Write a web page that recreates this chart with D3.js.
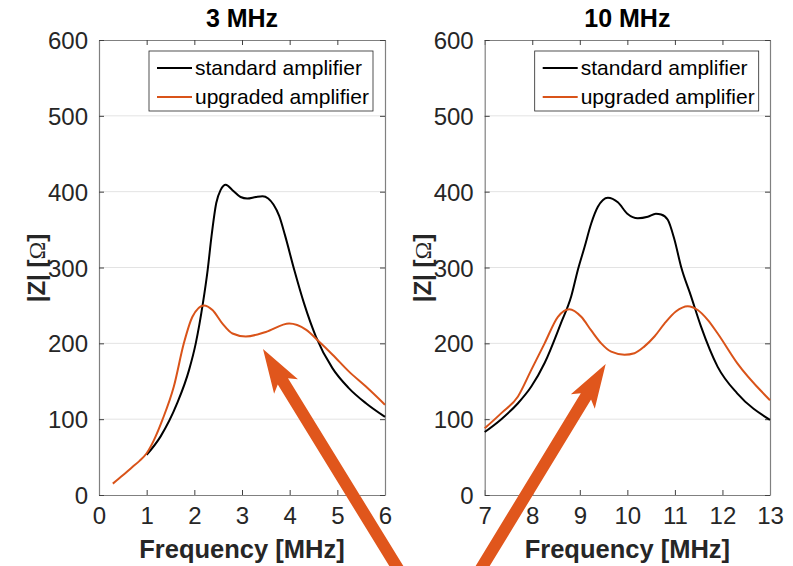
<!DOCTYPE html>
<html>
<head>
<meta charset="utf-8">
<script src="https://unpkg.com/d3@7/dist/d3.min.js"></script>
<style>
  body { margin: 0; background: #fff; }
  svg { display: block; }
</style>
</head>
<body>
<div></div>
<script>
// impedance |Z|, frequency in MHz
let freq3Std = [1.0, 1.29, 1.64, 1.89, 2.03, 2.18, 2.28, 2.36, 2.46, 2.55, 2.66, 2.8, 2.97, 3.11, 3.29, 3.43, 3.55, 3.66, 3.78, 3.9, 4.1, 4.3, 4.55, 4.9, 5.24, 5.6, 6.0]
let z3Std    = [53, 77, 121, 165, 200, 253, 297, 341, 385, 402, 409, 402, 393, 391, 393, 394, 391, 383, 368, 343, 296, 253, 209, 167, 141, 121, 103]
let freq3Up  = [0.29, 0.5, 0.7, 0.85, 1.0, 1.15, 1.33, 1.57, 1.78, 1.96, 2.2, 2.38, 2.59, 2.8, 3.08, 3.5, 3.99, 4.34, 4.62, 4.9, 5.24, 5.6, 6.0]
let z3Up     = [15, 26, 37, 45, 55, 72, 99, 143, 200, 235, 250, 244, 226, 213, 209, 215, 226, 218, 202, 185, 163, 143, 119]

let freq10Std = [7.0, 7.35, 7.7, 7.98, 8.26, 8.6, 8.82, 8.96, 9.1, 9.24, 9.38, 9.59, 9.8, 10.0, 10.22, 10.43, 10.6, 10.71, 10.85, 10.99, 11.13, 11.34, 11.55, 11.9, 12.31, 13.0]
let z10Std    = [83, 100, 121, 143, 174, 226, 262, 297, 327, 358, 380, 392, 386, 371, 365, 367, 371, 370, 363, 337, 301, 262, 222, 169, 134, 99]
let freq10Up  = [7.0, 7.35, 7.7, 7.98, 8.26, 8.54, 8.78, 9.03, 9.24, 9.45, 9.66, 9.94, 10.15, 10.36, 10.57, 10.78, 11.02, 11.27, 11.48, 11.69, 11.9, 12.31, 13.0]
let z10Up     = [88, 108, 130, 165, 200, 235, 245, 235, 217, 200, 189, 185, 187, 196, 209, 226, 242, 249, 244, 231, 213, 174, 125]

let yTicks = [0, 100, 200, 300, 400, 500, 600]
let seriesNames = ['standard amplifier', 'upgraded amplifier']
let colors = ['#000000', '#D95319']

let panels = [
  {title: '3 MHz', domain: [0, 6], ticks: [0, 1, 2, 3, 4, 5, 6], left: 99, right: 385,
   series: [[freq3Std, z3Std], [freq3Up, z3Up]]},
  {title: '10 MHz', domain: [7, 13], ticks: [7, 8, 9, 10, 11, 12, 13], left: 484.7, right: 770,
   series: [[freq10Std, z10Std], [freq10Up, z10Up]]}
]

// arrows drawn over the figure (page coordinates, tip then tail)
let arrows = [
  {tip: [263, 349], tail: [400, 572]},
  {tip: [605.7, 364], tail: [479, 572]}
]

let width = 793, height = 566
let plotTop = 40, plotBottom = 495
let font = 'Liberation Sans, Arial, Helvetica, sans-serif'

var svg = d3.select('div')
  .append('svg')
  .attr('width', width)
  .attr('height', height)

let y = d3.scaleLinear().domain([0, 600]).range([plotBottom, plotTop])

panels.forEach(function(p) {
  let x = d3.scaleLinear().domain(p.domain).range([p.left, p.right])
  let g = svg.append('g')

  // grid
  g.selectAll('.grid')
    .data(yTicks.slice(1, -1))
    .enter()
    .append('line')
    .attr('x1', p.left).attr('x2', p.right)
    .attr('y1', d => y(d)).attr('y2', d => y(d))
    .attr('stroke', '#e3e3e3')
    .attr('stroke-width', 1)

  // axes with inward ticks on all four sides
  let axisStyle = function(sel) {
    sel.select('.domain').attr('stroke', '#808080').attr('stroke-width', 1.2)
    sel.selectAll('.tick line').attr('stroke', '#404040')
  }
  g.append('g').attr('transform', `translate(0,${plotBottom})`)
    .call(d3.axisBottom(x).tickValues(p.ticks).tickFormat(d3.format('d')).tickSizeInner(-5).tickSizeOuter(0).tickPadding(12))
    .call(axisStyle)
    .call(s => s.selectAll('text').attr('font-size', 24).attr('font-family', font).attr('fill', '#262626'))
  g.append('g').attr('transform', `translate(0,${plotTop})`)
    .call(d3.axisTop(x).tickValues(p.ticks).tickSizeInner(-5).tickSizeOuter(0).tickFormat(''))
    .call(axisStyle)
  g.append('g').attr('transform', `translate(${p.left},0)`)
    .call(d3.axisLeft(y).tickValues(yTicks).tickSizeInner(-5).tickSizeOuter(0).tickPadding(11))
    .call(axisStyle)
    .call(s => s.selectAll('text').attr('font-size', 24).attr('font-family', font).attr('fill', '#262626').attr('dy', '0.36em'))
  g.append('g').attr('transform', `translate(${p.right},0)`)
    .call(d3.axisRight(y).tickValues(yTicks).tickSizeInner(-5).tickSizeOuter(0).tickFormat(''))
    .call(axisStyle)

  // lines
  let line = d3.line()
    .x(d => x(d[0]))
    .y(d => y(d[1]))
    .curve(d3.curveMonotoneX)
  p.series.forEach(function(s, i) {
    g.append('path')
      .datum(d3.zip(s[0], s[1]))
      .attr('d', line)
      .attr('fill', 'none')
      .attr('stroke', colors[i])
      .attr('stroke-width', 2)
  })

  // title
  let mid = (p.left + p.right) / 2
  g.append('text')
    .attr('x', mid).attr('y', 27)
    .attr('text-anchor', 'middle')
    .attr('font-family', font).attr('font-weight', 'bold').attr('font-size', 25)
    .attr('fill', '#000')
    .text(p.title)

  // x label
  g.append('text')
    .attr('x', mid).attr('y', 558)
    .attr('text-anchor', 'middle')
    .attr('font-family', font).attr('font-weight', 'bold').attr('font-size', 25.5)
    .attr('fill', '#262626')
    .text('Frequency [MHz]')

  // y label
  let yl = g.append('text')
    .attr('transform', `translate(${p.left - 54},268) rotate(-90)`)
    .attr('text-anchor', 'middle')
    .attr('font-family', font).attr('font-weight', 'bold').attr('font-size', 24)
    .attr('fill', '#262626')
  yl.append('tspan').text('|Z| [')
  yl.append('tspan').attr('font-family', 'Liberation Serif, Times New Roman, serif').attr('font-weight', 'normal').text('Ω')
  yl.append('tspan').text(']')

  // legend
  let lx = p.left + 50, ly = 51
  g.append('rect')
    .attr('x', lx).attr('y', ly)
    .attr('width', 224).attr('height', 60)
    .attr('fill', '#fff').attr('stroke', '#262626').attr('stroke-width', 0.8)
  seriesNames.forEach(function(name, i) {
    let ry = ly + 17 + i * 29
    g.append('line')
      .attr('x1', lx + 8).attr('x2', lx + 43)
      .attr('y1', ry).attr('y2', ry)
      .attr('stroke', colors[i]).attr('stroke-width', 2)
    g.append('text')
      .attr('x', lx + 46).attr('y', ry)
      .attr('dy', '0.35em')
      .attr('font-family', font).attr('font-size', 21)
      .attr('fill', '#000')
      .text(name)
  })
})

// annotation arrows
let headLen = 44, headHalf = 14, shaftHalf = 6, notch = 6
arrows.forEach(function(a) {
  let dx = a.tail[0] - a.tip[0], dy = a.tail[1] - a.tip[1]
  let len = Math.hypot(dx, dy)
  let ux = dx / len, uy = dy / len   // towards tail
  let nx = -uy, ny = ux
  let pt = (along, side) => [a.tip[0] + ux * along + nx * side, a.tip[1] + uy * along + ny * side]
  let pts = [
    pt(0, 0),
    pt(headLen, headHalf),
    pt(headLen - notch, shaftHalf),
    pt(len, shaftHalf),
    pt(len, -shaftHalf),
    pt(headLen - notch, -shaftHalf),
    pt(headLen, -headHalf)
  ]
  svg.append('path')
    .attr('d', d3.line()(pts) + 'Z')
    .attr('fill', '#E0561C')
})
</script>
</body>
</html>
